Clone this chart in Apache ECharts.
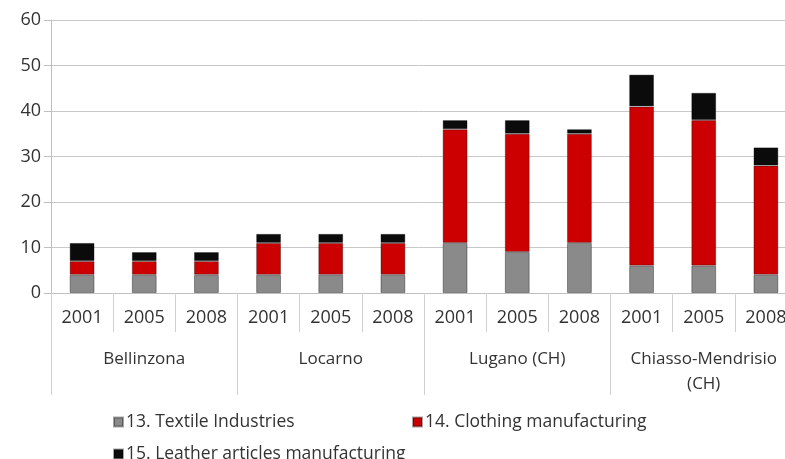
<!DOCTYPE html>
<html>
<head>
<meta charset="utf-8">
<script src="https://cdn.jsdelivr.net/npm/echarts@6/dist/echarts.min.js"></script>
<style>
  html, body { margin: 0; padding: 0; background: #fff; }
  #chart { width: 785px; height: 459px; }
</style>
</head>
<body>
<div id="chart"></div>
<script>
// Data
const years = ['2001', '2005', '2008', '2001', '2005', '2008', '2001', '2005', '2008', '2001', '2005', '2008'];
const regions = ['Bellinzona', 'Locarno', 'Lugano (CH)', 'Chiasso-Mendrisio\n(CH)'];
const seriesNames = ['13. Textile Industries', '14. Clothing manufacturing', '15. Leather articles manufacturing'];
const textile = [4, 4, 4, 4, 4, 4, 11, 9, 11, 6, 6, 4];
const clothing = [3, 3, 3, 7, 7, 7, 25, 26, 24, 35, 32, 24];
const leather = [4, 2, 2, 2, 2, 2, 2, 3, 1, 7, 6, 4];
const yTicks = { min: 0, max: 60, interval: 10 };

const colors = ['#8a8a8a', '#cc0000', '#0b0b0b'];
const textColor = '#333333';
const fontFamily = '"Open Sans", "Noto Sans", sans-serif';

const chart = echarts.init(document.getElementById('chart'));

const makeSeries = (name, data, color) => ({
  name: name,
  type: 'bar',
  stack: 'total',
  data: data,
  barWidth: '40%',
  itemStyle: {
    color: color,
    borderColor: 'rgba(0,0,0,0.35)',
    borderWidth: 1
  }
});

const legendAt = (name, left, top) => ({
  data: [name],
  left: left,
  top: top,
  orient: 'horizontal',
  icon: 'rect',
  itemWidth: 9,
  itemHeight: 9,
  itemGap: 4,
  textStyle: { color: textColor, fontSize: 17.5, fontFamily: fontFamily, padding: [0, 0, 0, -2] }
});

chart.setOption({
  animation: false,
  backgroundColor: '#ffffff',
  color: colors,
  // plot runs past the right edge of the canvas, as in the reference
  grid: { left: 51, width: 746, top: 20, bottom: 166, outerBoundsMode: 'none' },
  legend: [
    legendAt(seriesNames[0], 108, 408),
    legendAt(seriesNames[1], 407, 408),
    legendAt(seriesNames[2], 108, 440)
  ],
  xAxis: [
    {
      type: 'category',
      data: years,
      position: 'bottom',
      axisLine: { show: true, lineStyle: { color: '#bfbfbf', width: 1 } },
      axisTick: { show: true, interval: 0, length: 39, lineStyle: { color: '#d0d0d0' } },
      axisLabel: { interval: 0, margin: 16, color: textColor, fontSize: 18, fontFamily: fontFamily }
    },
    {
      type: 'category',
      data: regions,
      position: 'bottom',
      axisLine: { show: false },
      axisTick: { show: true, interval: 0, length: 102, lineStyle: { color: '#d0d0d0' } },
      axisLabel: {
        interval: 0, margin: 54, color: textColor, fontSize: 17, fontFamily: fontFamily,
        lineHeight: 25, align: 'center'
      }
    }
  ],
  yAxis: {
    type: 'value',
    min: yTicks.min,
    max: yTicks.max,
    interval: yTicks.interval,
    axisLine: { show: true, lineStyle: { color: '#bfbfbf' } },
    axisTick: { show: true, length: 7, lineStyle: { color: '#bfbfbf' } },
    axisLabel: { margin: 10, color: textColor, fontSize: 18, fontFamily: fontFamily },
    splitLine: { lineStyle: { color: '#c8c8c8', width: 1 } }
  },
  series: [
    makeSeries(seriesNames[0], textile, colors[0]),
    makeSeries(seriesNames[1], clothing, colors[1]),
    makeSeries(seriesNames[2], leather, colors[2])
  ]
});
</script>
</body>
</html>
